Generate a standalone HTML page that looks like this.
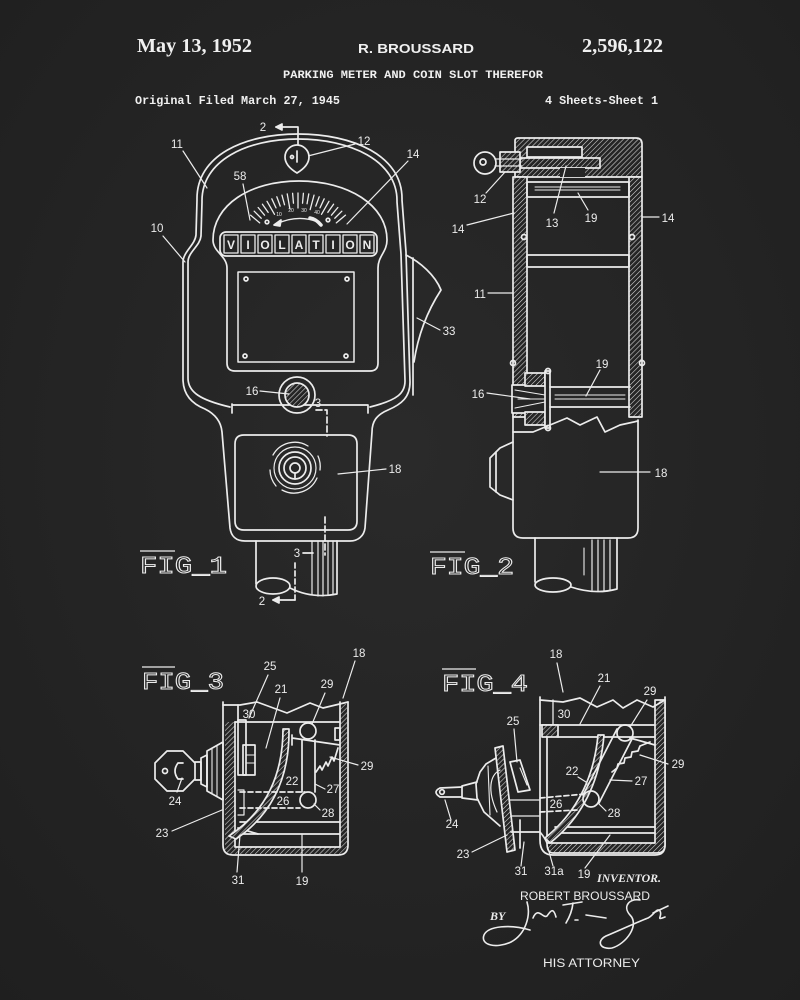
<!DOCTYPE html>
<html><head><meta charset="utf-8"><style>
html,body{margin:0;padding:0;background:#252525;}
svg{display:block;}
</style></head><body>
<svg width="800" height="1000" viewBox="0 0 800 1000" xmlns="http://www.w3.org/2000/svg">
<defs>
<pattern id="h" width="3.5" height="3.5" patternUnits="userSpaceOnUse" patternTransform="rotate(45)"><rect width="3.5" height="3.5" fill="#252525"/><line x1="0" y1="0" x2="0" y2="3.5" stroke="#dcdcdc" stroke-width="1.1"/></pattern>
<radialGradient id="bg" cx="50%" cy="45%" r="75%"><stop offset="0" stop-color="#2a2a2a"/><stop offset="1" stop-color="#1f1f1f"/></radialGradient>
</defs>
<rect width="800" height="1000" fill="url(#bg)"/>

<!-- HEADER -->
<g fill="#f0f0f0">
<text x="137" y="52" font-family="Liberation Serif, serif" font-weight="bold" font-size="20" textLength="115" lengthAdjust="spacingAndGlyphs">May 13, 1952</text>
<text x="358" y="53" font-family="Liberation Sans, sans-serif" font-weight="bold" font-size="12.5" textLength="116" lengthAdjust="spacingAndGlyphs">R. BROUSSARD</text>
<text x="582" y="52" font-family="Liberation Serif, serif" font-weight="bold" font-size="20" textLength="81" lengthAdjust="spacingAndGlyphs">2,596,122</text>
<text x="283" y="78" font-family="Liberation Mono, monospace" font-weight="bold" font-size="11" textLength="260" lengthAdjust="spacingAndGlyphs">PARKING METER AND COIN SLOT THEREFOR</text>
<text x="135" y="104" font-family="Liberation Mono, monospace" font-weight="bold" font-size="12" textLength="205" lengthAdjust="spacingAndGlyphs">Original Filed March 27, 1945</text>
<text x="545" y="104" font-family="Liberation Mono, monospace" font-weight="bold" font-size="12" textLength="113" lengthAdjust="spacingAndGlyphs">4 Sheets-Sheet 1</text>
</g>

<g stroke="#ececec" fill="none" stroke-width="1.7" stroke-linecap="round" stroke-linejoin="round">

<!-- ===== FIG 1 ===== -->
<path d="M 197,200 C 196,155 245,134 298,134 C 352,134 403,155 402,200 L 406,252 L 410,382 C 410,397 402,404 388,410 C 376,415 372,422 372,432 L 365,528 C 364,536 358,541 350,541 L 245,541 C 236,541 231,536 230,528 L 222,432 C 221,421 215,414 205,409 C 190,403 183,393 183,379 L 183,262 C 183,252 195,245 196,235 Z"/>
<path d="M 230,407 C 200,400 188,392 188,378 L 188,262 C 188,252 200,246 201,236 L 202,202 C 201,160 248,139 298,139 C 349,139 398,160 397,202 L 401,254 L 405,381 C 405,393 398,400 370,407"/>
<path d="M 232,404 L 232,413 M 232,405 L 368,405 L 368,413"/>
<!-- dial + window frame -->
<path d="M 213,240 C 213,205 250,181 299,181 C 348,181 387,205 387,240 C 387,252 378,256 378,268 L 378,363 Q 378,371 370,371 L 235,371 Q 227,371 227,363 L 227,268 C 227,256 213,252 213,240 Z"/>
<rect x="238" y="272" width="116" height="90" stroke-width="1.5"/>
<circle cx="246" cy="279" r="2"/><circle cx="347" cy="279" r="2"/><circle cx="245" cy="356" r="2"/><circle cx="346" cy="356" r="2"/>
<!-- ticks -->
<g stroke-width="1.3">
<line x1="298" y1="193" x2="298" y2="205" transform="rotate(-50 298 255)"/>
<line x1="298" y1="193" x2="298" y2="203" transform="rotate(-45 298 255)"/>
<line x1="298" y1="193" x2="298" y2="203" transform="rotate(-40 298 255)"/>
<line x1="298" y1="193" x2="298" y2="203" transform="rotate(-35 298 255)"/>
<line x1="298" y1="193" x2="298" y2="208" transform="rotate(-30 298 255)"/>
<line x1="298" y1="193" x2="298" y2="203" transform="rotate(-25 298 255)"/>
<line x1="298" y1="193" x2="298" y2="203" transform="rotate(-20 298 255)"/>
<line x1="298" y1="193" x2="298" y2="203" transform="rotate(-15 298 255)"/>
<line x1="298" y1="193" x2="298" y2="208" transform="rotate(-10 298 255)"/>
<line x1="298" y1="193" x2="298" y2="203" transform="rotate(-5 298 255)"/>
<line x1="298" y1="193" x2="298" y2="208" transform="rotate(0 298 255)"/>
<line x1="298" y1="193" x2="298" y2="203" transform="rotate(5 298 255)"/>
<line x1="298" y1="193" x2="298" y2="203" transform="rotate(10 298 255)"/>
<line x1="298" y1="193" x2="298" y2="208" transform="rotate(15 298 255)"/>
<line x1="298" y1="193" x2="298" y2="203" transform="rotate(20 298 255)"/>
<line x1="298" y1="193" x2="298" y2="203" transform="rotate(25 298 255)"/>
<line x1="298" y1="193" x2="298" y2="208" transform="rotate(30 298 255)"/>
<line x1="298" y1="193" x2="298" y2="203" transform="rotate(35 298 255)"/>
<line x1="298" y1="193" x2="298" y2="203" transform="rotate(40 298 255)"/>
<line x1="298" y1="193" x2="298" y2="203" transform="rotate(45 298 255)"/>
<line x1="298" y1="193" x2="298" y2="205" transform="rotate(50 298 255)"/>
</g>
<circle cx="267" cy="222" r="1.8"/><circle cx="328" cy="220" r="1.8"/>
<path d="M 276,224 Q 298,214 318,222" stroke-width="1.4"/>
<path d="M 274,225 L 281,220 L 280,226 Z" fill="#ececec"/>
<path d="M 310,218 Q 316,219 321,225" stroke-width="3.5"/>
<!-- VIOLATION strip -->
<rect x="220" y="232" width="157" height="24" rx="6" fill="#252525"/>
<g stroke-width="1.3">
<rect x="224" y="235" width="14" height="18"/><rect x="241" y="235" width="14" height="18"/><rect x="258" y="235" width="14" height="18"/>
<rect x="275" y="235" width="14" height="18"/><rect x="292" y="235" width="14" height="18"/><rect x="309" y="235" width="14" height="18"/>
<rect x="326" y="235" width="14" height="18"/><rect x="343" y="235" width="14" height="18"/><rect x="360" y="235" width="14" height="18"/>
</g>
<!-- flap 33 -->
<path d="M 406,255 C 420,262 435,275 441,290 C 428,310 418,335 414,362"/>
<path d="M 413,258 L 413,395"/>
<!-- coin slot 16 -->
<circle cx="297" cy="395" r="18"/>
<circle cx="297" cy="395" r="12" fill="url(#h)"/>
<!-- panel 18 -->
<path d="M 235,444 Q 235,435 244,435 L 348,435 Q 357,435 357,444 L 357,521 Q 357,530 348,530 L 244,530 Q 235,530 235,521 Z"/>
<circle cx="295" cy="468" r="16"/>
<circle cx="295" cy="468" r="11"/>
<circle cx="295" cy="468" r="5"/>
<path d="M 295,473 L 295,479"/>
<path d="M 273,455 A 25,25 0 0 1 308,446" stroke-width="1.3"/>
<path d="M 317,478 A 25,25 0 0 1 282,490" stroke-width="1.3"/>
<path d="M 270,470 A 26,26 0 0 0 276,486" stroke-width="1.3"/>
<path d="M 318,456 A 26,26 0 0 1 320,470" stroke-width="1.3"/>
<circle cx="295" cy="468" r="21" stroke-width="1.2"/>
<!-- pipe -->
<path d="M 256,541 L 256,584"/>
<ellipse cx="273" cy="586" rx="17" ry="8"/>
<path d="M 290,588 Q 312,599 337,594 L 337,541"/>
<path d="M 312,541 L 312,594 M 318,541 L 318,596 M 323,541 L 323,596 M 328,541 L 328,595 M 333,541 L 333,595" stroke-width="1.2"/>
<!-- section lines -->
<path d="M 276,127 L 298,127 L 298,150"/>
<path d="M 276,127 L 282,124 L 282,130 Z" fill="#ececec"/>
<path d="M 295,600 L 273,600"/>
<path d="M 273,600 L 279,597 L 279,603 Z" fill="#ececec"/>
<path d="M 295,600 L 295,560" stroke-dasharray="5,3"/>
<path d="M 316,410 L 327,410 L 327,436" stroke-dasharray="6,3"/>
<path d="M 303,553 L 313,553"/>
<path d="M 325,517 L 325,555" stroke-dasharray="6,3"/>
<!-- leaders fig1 -->
<g stroke-width="1.2">
<path d="M 183,151 L 207,188"/>
<path d="M 163,236 L 185,262"/>
<path d="M 243,184 L 250,220"/>
<path d="M 355,144 L 304,157"/>
<path d="M 408,161 L 347,224"/>
<path d="M 260,391 L 289,394"/>
<path d="M 386,469 L 338,474"/>
<path d="M 417,318 L 440,330"/>
</g>
<!-- circle 12 teardrop -->
<path d="M 297,173 C 292,170 285,165 285,157 C 285,150 291,145 297,145 C 303,145 309,150 309,157 C 309,165 302,170 297,173 Z" fill="#252525"/>
<path d="M 297,151 L 297,162"/>
<circle cx="292" cy="157" r="1.5"/>

<!-- ===== FIG 2 ===== -->
<path d="M 515,177 L 515,141 Q 515,138 518,138 L 636,138 Q 642,138 642,144 L 642,177 Z" fill="url(#h)"/>
<rect x="527" y="147" width="55" height="10" fill="#252525"/>
<rect x="520" y="158" width="80" height="10" fill="url(#h)"/>
<rect x="560" y="168" width="25" height="9" fill="#252525" stroke="none"/>
<rect x="500" y="152" width="20" height="20" fill="url(#h)"/>
<circle cx="485" cy="163" r="11"/>
<circle cx="483" cy="162" r="3"/>
<path d="M 495,159 L 522,159 M 495,166 L 522,166" stroke-width="1.3"/>
<!-- walls -->
<rect x="513" y="177" width="14" height="240" fill="url(#h)"/>
<rect x="629" y="177" width="13" height="240" fill="url(#h)"/>
<rect x="527" y="182" width="102" height="15"/>
<path d="M 535,187 L 620,187 M 535,190 L 620,190" stroke-width="1"/>
<rect x="527" y="255" width="102" height="12"/>
<circle cx="524" cy="237" r="2.5"/><circle cx="632" cy="237" r="2.5"/>
<circle cx="513" cy="363" r="2.5"/><circle cx="642" cy="363" r="2.5"/>
<!-- coin slot 16 -->
<rect x="512" y="385" width="35" height="28" fill="#252525"/>
<rect x="525" y="373" width="20" height="13" fill="url(#h)"/>
<rect x="525" y="412" width="20" height="13" fill="url(#h)"/>
<path d="M 515,390 L 545,395 M 515,408 L 545,402 M 518,399 L 545,399" stroke-width="1.1"/>
<rect x="545" y="371" width="5" height="57" fill="#252525"/>
<circle cx="548" cy="371" r="2.5"/><circle cx="548" cy="428" r="2.5"/>
<path d="M 550,387 L 630,387 M 550,407 L 630,407"/>
<path d="M 555,395 L 625,395 M 555,399 L 625,399" stroke-width="1"/>
<!-- jagged break + lower housing -->
<path d="M 513,432 L 533,432 L 567,418 L 580,425 L 597,417 L 605,432 L 620,425 L 638,421"/>
<path d="M 513,417 L 513,528 Q 513,538 523,538 L 628,538 Q 638,538 638,528 L 638,420"/>
<path d="M 513,442 L 500,448 L 490,458 L 490,487 L 500,495 L 513,500"/>
<path d="M 496,452 L 496,492"/>
<!-- pipe -->
<path d="M 535,538 L 535,582"/>
<ellipse cx="553" cy="585" rx="18" ry="7"/>
<path d="M 571,587 Q 595,595 617,589 L 617,538"/>
<path d="M 592,540 L 592,590 M 598,540 L 598,591 M 604,540 L 604,591 M 610,540 L 610,590" stroke-width="1.2"/>
<path d="M 584,548 L 584,575" stroke-width="1.1"/>
<!-- leaders fig2 -->
<g stroke-width="1.2">
<path d="M 486,193 L 505,172"/>
<path d="M 554,213 L 566,166"/>
<path d="M 588,210 L 578,193"/>
<path d="M 659,217 L 642,217"/>
<path d="M 467,225 L 514,213"/>
<path d="M 488,293 L 513,293"/>
<path d="M 600,370 L 586,396"/>
<path d="M 487,393 L 530,399"/>
<path d="M 650,472 L 600,472"/>
</g>

<!-- ===== FIG 3 ===== -->
<rect x="225" y="722" width="10" height="125" fill="url(#h)" stroke="none"/>
<rect x="340" y="704" width="7" height="143" fill="url(#h)" stroke="none"/>
<path d="M 224,847 L 347,847 L 347,846 Q 347,854 339,854 L 232,854 Q 224,854 224,846 Z" fill="url(#h)" stroke="none"/>
<path d="M 223,702 L 223,845 Q 223,855 233,855 L 338,855 Q 348,855 348,845 L 348,702"/>
<path d="M 235,847 L 340,847 M 235,722 L 235,847 M 340,702 L 340,847"/>
<path d="M 223,705 L 240,705 L 257,702 L 287,713 L 310,703 L 323,708 L 348,702"/>
<path d="M 235,722 L 340,722"/>
<path d="M 238,705 L 238,722"/>
<path d="M 240,822 L 340,822 M 240,834 L 340,834"/>
<path d="M 238,828 L 258,834"/>
<!-- chute 22 -->
<path d="M 283,729 Q 283,800 229,836 L 236,839 Q 290,802 289,729 Z" fill="url(#h)"/>
<!-- lever 25/30 -->
<rect x="238" y="720" width="8" height="55"/>
<rect x="243" y="745" width="12" height="30"/>
<path d="M 246,755 L 255,755 M 246,763 L 255,763" stroke-width="1.1"/>
<path d="M 238,790 L 244,790 L 244,815 L 238,815" stroke-width="1.2"/>
<path d="M 240,792 L 305,792 M 240,808 L 300,808" stroke-dasharray="5,3"/>
<!-- link 27, circles -->
<circle cx="308" cy="731" r="8"/>
<circle cx="308" cy="800" r="8"/>
<path d="M 302,740 L 302,792 M 315,740 L 315,792"/>
<path d="M 292,738 L 340,745 M 292,735 L 292,745"/>
<path d="M 316,772 L 320,766 L 322,770 L 326,762 L 328,766 L 332,757 L 334,761 L 338,748"/>
<rect x="335" y="728" width="5" height="12"/>
<!-- key & cylinder -->
<path d="M 167,751 L 183,751 L 195,763 L 195,779 L 183,791 L 167,791 L 155,779 L 155,763 Z"/>
<circle cx="165" cy="771" r="2.5"/>
<path d="M 183,763 L 178,763 Q 172,771 178,779 L 183,779"/>
<path d="M 195,762 L 201,762 L 201,780 L 195,780"/>
<path d="M 201,758 L 207,755 L 207,787 L 201,784 Z"/>
<path d="M 207,751 L 223,742 L 223,800 L 207,791 Z"/>
<path d="M 212,749 L 212,793 M 217,746 L 217,797" stroke-width="1.1"/>
<!-- leaders fig3 -->
<g stroke-width="1.2">
<path d="M 268,675 L 249,718"/>
<path d="M 280,698 L 266,748"/>
<path d="M 325,693 L 312,724"/>
<path d="M 355,661 L 343,698"/>
<path d="M 358,765 L 330,757"/>
<path d="M 325,789 L 315,784"/>
<path d="M 320,810 L 314,804"/>
<path d="M 177,792 L 182,778"/>
<path d="M 172,831 L 222,810"/>
<path d="M 237,872 L 240,835"/>
<path d="M 302,872 L 302,834"/>
</g>

<!-- ===== FIG 4 ===== -->
<path d="M 540,697 L 540,840 Q 540,855 553,855 L 655,855 Q 665,855 665,845 L 665,697"/>
<path d="M 655,700 L 665,700 L 665,845 Q 665,853 657,853 L 553,853 Q 547,853 547,843 L 550,843 L 655,843 Z" fill="url(#h)"/>
<path d="M 540,700 L 563,702 L 580,698 L 597,707 L 613,700 L 623,708 L 637,700 L 653,707 L 665,700"/>
<path d="M 540,725 L 655,725 M 558,737 L 655,737"/>
<rect x="542" y="725" width="16" height="12" fill="url(#h)"/>
<path d="M 547,737 L 547,838"/>
<path d="M 553,700 L 553,725" stroke-width="1.3"/>
<path d="M 555,827 L 655,827 M 555,833 L 655,833"/>
<!-- chute -->
<path d="M 598,735 Q 592,800 545,838 L 550,843 Q 598,805 604,735 Z" fill="url(#h)"/>
<!-- link 27 diagonal -->
<circle cx="625" cy="733" r="8"/>
<circle cx="591" cy="799" r="8"/>
<path d="M 617,729 L 583,795 M 633,737 L 599,803"/>
<path d="M 612,772 L 617,768 L 618,764 L 624,763 L 625,758 L 631,757 L 632,752 L 638,751 L 640,746 L 650,742"/>
<path d="M 630,738 L 655,745"/>
<!-- lock mechanism -->
<path d="M 495,748 L 503,746 L 515,850 L 507,852 Z" fill="url(#h)"/>
<path d="M 496,758 L 486,764 L 480,772 L 476,784 L 477,798 L 484,812 L 500,826"/>
<path d="M 500,770 C 490,775 487,790 497,812" stroke-width="1.2"/>
<path d="M 488,766 L 490,815" stroke-width="1.1"/>
<path d="M 477,782 L 462,786 L 462,798 L 478,800"/>
<path d="M 462,787 L 440,788 Q 432,792 440,797 L 462,797"/>
<circle cx="442" cy="792" r="2.3"/>
<path d="M 510,762 L 520,760 L 530,790 L 518,792 Z"/>
<path d="M 520,768 L 527,785" stroke-width="1.1"/>
<path d="M 509,800 L 540,800 M 511,816 L 540,816" stroke-width="1.3"/>
<path d="M 540,798 L 585,794 M 540,812 L 577,810" stroke-dasharray="5,3"/>
<path d="M 511,832 L 540,832 Q 545,838 547,843 M 520,820 L 520,848"/>
<!-- leaders fig4 -->
<g stroke-width="1.2">
<path d="M 557,663 L 563,692"/>
<path d="M 600,686 L 580,724"/>
<path d="M 647,700 L 630,727"/>
<path d="M 514,729 L 517,762"/>
<path d="M 668,764 L 640,755"/>
<path d="M 578,777 L 586,782"/>
<path d="M 632,781 L 610,780"/>
<path d="M 606,811 L 599,804"/>
<path d="M 451,820 L 445,800"/>
<path d="M 472,852 L 507,835"/>
<path d="M 521,866 L 524,842"/>
<path d="M 553,866 L 548,848"/>
<path d="M 585,868 L 610,835"/>
</g>
<!-- signature -->
<g stroke-width="1.6">
<path d="M 527,902 C 531,915 526,934 511,942 C 496,949 480,945 484,935 C 488,926 510,924 530,930"/>
<path d="M 533,918 C 538,906 543,919 547,916 C 550,912 553,906 556,917"/>
<path d="M 563,905 L 582,902 M 573,903 C 572,912 569,918 566,923 M 575,920 L 578,920"/>
<path d="M 586,915 L 606,918"/>
<path d="M 640,900 C 630,898 622,906 630,915 C 640,925 626,944 612,948 C 600,950 596,941 606,936 C 620,930 640,921 648,918 C 654,915 657,907 660,911 C 663,916 655,921 665,917"/>
<path d="M 653,913 L 668,906"/>
</g>
</g>

<!-- VIOLATION letters -->
<g fill="#ececec" font-family="Liberation Sans, sans-serif" font-weight="bold" font-size="12" text-anchor="middle">
<text x="231" y="249">V</text><text x="248" y="249">I</text><text x="265" y="249">O</text>
<text x="282" y="249">L</text><text x="299" y="249">A</text><text x="316" y="249">T</text>
<text x="333" y="249">I</text><text x="350" y="249">O</text><text x="367" y="249">N</text>
</g>
<g fill="#ececec" font-family="Liberation Sans, sans-serif" font-size="5" text-anchor="middle">
<text x="279" y="216">10</text><text x="291" y="212">20</text><text x="304" y="212">30</text><text x="317" y="214">40</text>
</g>

<!-- FIG labels -->
<g fill="none" stroke="#ececec" stroke-width="1" font-family="Liberation Mono, monospace" font-size="24">
<text x="140" y="573" textLength="87" lengthAdjust="spacingAndGlyphs">FIG_1</text>
<text x="430" y="574" textLength="84" lengthAdjust="spacingAndGlyphs">FIG_2</text>
<text x="142" y="689" textLength="82" lengthAdjust="spacingAndGlyphs">FIG_3</text>
<text x="442" y="691" textLength="86" lengthAdjust="spacingAndGlyphs">FIG_4</text>
</g>
<g stroke="#ececec" stroke-width="1.2">
<line x1="140" y1="551" x2="175" y2="551"/><line x1="430" y1="552" x2="465" y2="552"/>
<line x1="142" y1="667" x2="175" y2="667"/><line x1="442" y1="669" x2="476" y2="669"/>
</g>

<!-- number labels -->
<g fill="#ececec" font-family="Liberation Sans, sans-serif" font-size="11.5" text-anchor="middle">
<text x="177" y="148">11</text><text x="157" y="232">10</text><text x="240" y="180">58</text>
<text x="364" y="145">12</text><text x="413" y="158">14</text><text x="449" y="335">33</text>
<text x="252" y="395">16</text><text x="395" y="473">18</text>
<text x="263" y="131">2</text><text x="262" y="605">2</text><text x="318" y="407">3</text><text x="297" y="557">3</text>

<text x="480" y="203">12</text><text x="552" y="227">13</text><text x="591" y="222">19</text>
<text x="668" y="222">14</text><text x="458" y="233">14</text><text x="480" y="298">11</text>
<text x="602" y="368">19</text><text x="478" y="398">16</text><text x="661" y="477">18</text>

<text x="270" y="670">25</text><text x="281" y="693">21</text><text x="327" y="688">29</text>
<text x="359" y="657">18</text><text x="249" y="718">30</text><text x="367" y="770">29</text>
<text x="292" y="785">22</text><text x="333" y="793">27</text><text x="283" y="805">26</text>
<text x="328" y="817">28</text><text x="175" y="805">24</text><text x="162" y="837">23</text>
<text x="238" y="884">31</text><text x="302" y="885">19</text>

<text x="556" y="658">18</text><text x="604" y="682">21</text><text x="650" y="695">29</text>
<text x="513" y="725">25</text><text x="564" y="718">30</text><text x="678" y="768">29</text>
<text x="572" y="775">22</text><text x="641" y="785">27</text><text x="556" y="808">26</text>
<text x="614" y="817">28</text><text x="452" y="828">24</text><text x="463" y="858">23</text>
<text x="521" y="875">31</text><text x="554" y="875">31a</text><text x="584" y="878">19</text>
</g>

<!-- inventor block -->
<g fill="#ececec">
<text x="597" y="882" font-family="Liberation Serif, serif" font-style="italic" font-weight="bold" font-size="12" textLength="64" lengthAdjust="spacingAndGlyphs">INVENTOR.</text>
<text x="520" y="900" font-family="Liberation Sans, sans-serif" font-size="11.5" textLength="130" lengthAdjust="spacingAndGlyphs">ROBERT  BROUSSARD</text>
<text x="490" y="920" font-family="Liberation Serif, serif" font-style="italic" font-weight="bold" font-size="12">BY</text>
<text x="543" y="967" font-family="Liberation Sans, sans-serif" font-size="11.5" textLength="97" lengthAdjust="spacingAndGlyphs">HIS  ATTORNEY</text>
</g>
</svg>
</body></html>
